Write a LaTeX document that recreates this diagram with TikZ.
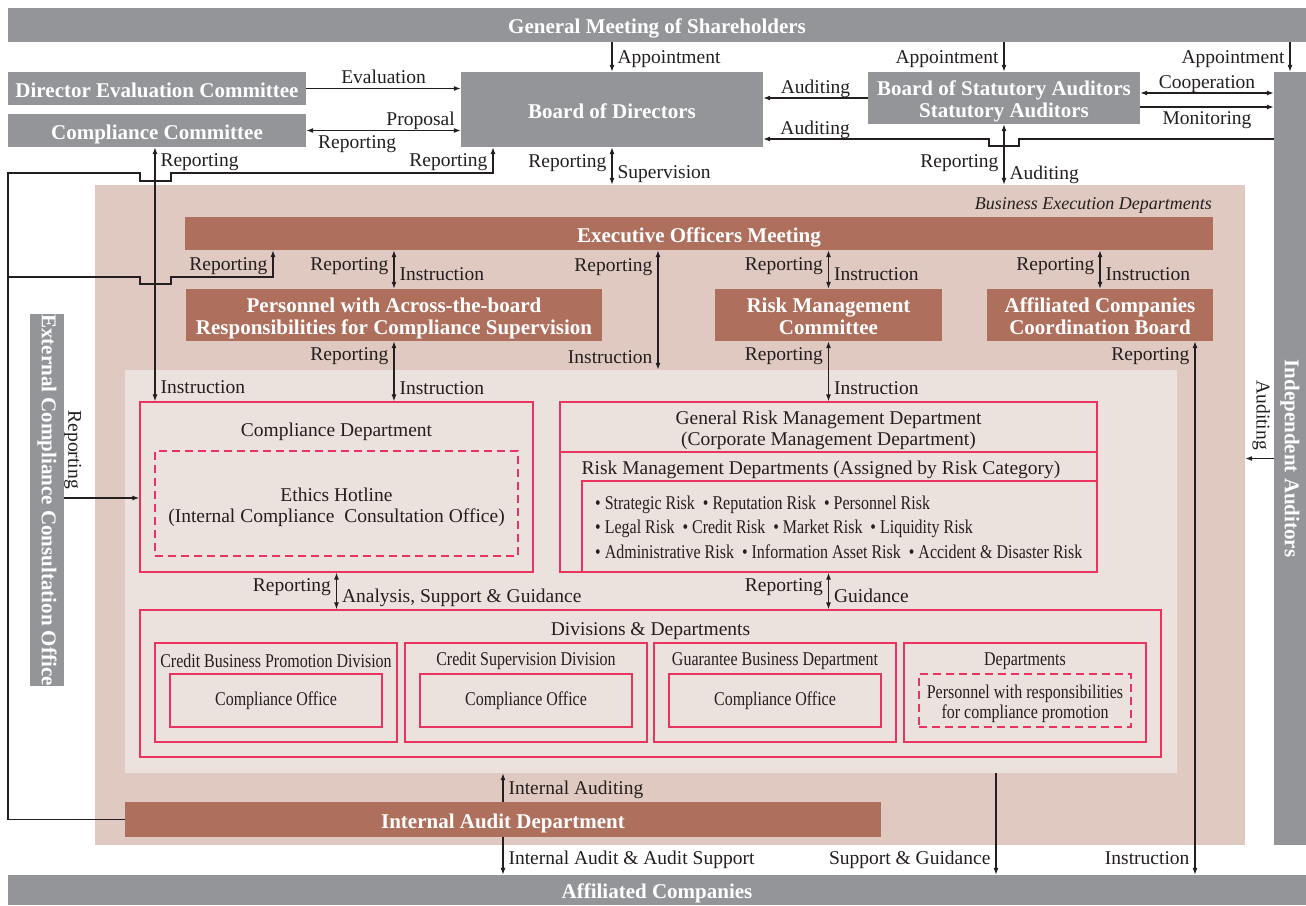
\documentclass[tikz,border=0pt]{standalone}
\usepackage{fontspec}
\setmainfont{Liberation Serif}
\newfontfamily\condfont[FakeStretch=0.82]{Liberation Serif}
\usetikzlibrary{arrows.meta}
\usetikzlibrary{calc}
\usetikzlibrary{positioning}

\definecolor{boardgray}{HTML}{939598}
\definecolor{execbrown}{HTML}{AE6F5D}
\definecolor{bedfill}{HTML}{DFC9C1}
\definecolor{innerfill}{HTML}{ECE2DD}
\definecolor{deptpink}{HTML}{E8345E}
\definecolor{linkblack}{HTML}{231F20}

\newcommand{\hdfont}{\fontsize{21}{22}\selectfont\bfseries}
\newcommand{\lbfont}{\fontsize{19.5}{21}\selectfont}
\newcommand{\cdfont}{\condfont\fontsize{19.5}{20}\selectfont}

\tikzset{
  graybox/.style={fill=boardgray, text=white, font=\hdfont, inner sep=0pt, align=center},
  brownbox/.style={fill=execbrown, text=white, font=\hdfont, inner sep=0pt, align=center},
  oneline/.style={text height=17pt, text depth=0pt},
  twoline/.style={text height=38pt, text depth=0pt},
  deptbox/.style={draw=deptpink, line width=1.3pt, inner sep=0pt, align=center},
  hotbox/.style={deptbox, dash pattern=on 8pt off 5pt},
  lbl/.style={font=\lbfont, text=linkblack, inner xsep=5pt, inner ysep=3pt, text height=14pt, text depth=1pt},
  boxtext/.style={font=\lbfont, text=linkblack, inner sep=0pt, align=center},
  condtext/.style={font=\cdfont, text=linkblack, align=center},
  arrow/.style={draw=linkblack, -{Latex[length=7pt, width=5pt]}, line width=1.1pt},
  dblarrow/.style={draw=linkblack, {Latex[length=7pt, width=5pt]}-{Latex[length=7pt, width=5pt]}, line width=1.1pt}
  }

\begin{document}
\begin{tikzpicture}[x=1pt, y=-1pt]
	\useasboundingbox (0,0) rectangle (1306,905);

	% Frames
	\node[fill=bedfill, minimum width=1150, minimum height=660] (bed) at (670,515) {};
	\node[fill=innerfill, minimum width=1052, minimum height=403] (inner) at (651,571.5) {};
	\node[font=\fontsize{18}{20}\selectfont\itshape, text=linkblack, anchor=south east, inner sep=2pt] (bedtitle) at (1214,216) {Business Execution Departments};

	% Governance
	\node[graybox, oneline, minimum width=1298, minimum height=34] (gm) at (657,25) {General Meeting of Shareholders};
	\node[graybox, oneline, minimum width=298, minimum height=33] (dec) at (157,88.5) {Director Evaluation Committee};
	\node[graybox, oneline, minimum width=298, minimum height=33] (cc) at (157,130.5) {Compliance Committee};
	\node[graybox, oneline, minimum width=302, minimum height=75] (bod) at (612,109.5) {Board of Directors};
	\node[graybox, twoline, minimum width=272, minimum height=52] (bosa) at (1004,98) {Board of Statutory Auditors\\Statutory Auditors};
	\node[graybox, minimum width=32, minimum height=773] (ia) at (1290,458.5) {\rotatebox{-90}{Independent Auditors}};
	\node[graybox, minimum width=34, minimum height=370] (ecco) at (47,500) {\rotatebox{-90}{External Compliance Consultation Office}};
	\node[graybox, oneline, minimum width=1298, minimum height=30] (ac) at (657,890) {Affiliated Companies};

	% Business execution
	\node[brownbox, oneline, minimum width=1028, minimum height=33] (eom) at (699,233.5) {Executive Officers Meeting};
	\node[brownbox, twoline, minimum width=416, minimum height=52] (pers) at (394,315) {Personnel with Across-the-board\\Responsibilities for Compliance Supervision};
	\node[brownbox, twoline, minimum width=227, minimum height=52] (rmc) at (828.5,315) {Risk Management\\Committee};
	\node[brownbox, twoline, minimum width=226, minimum height=52] (accb) at (1100,315) {Affiliated Companies\\Coordination Board};
	\node[brownbox, oneline, minimum width=756, minimum height=35] (iad) at (503,819.5) {Internal Audit Department};

	% Compliance Department
	\node[deptbox, minimum width=393, minimum height=170] (cd) at (336.5,487) {};
	\node[boxtext, text height=14pt, text depth=1pt] (cdtitle) at (336.5,430) {Compliance Department};
	\node[hotbox, boxtext, text height=38.5pt, text depth=0pt, minimum width=363, minimum height=105] (hotline) at (336.5,503.5) {Ethics Hotline\\(Internal Compliance\ \ Consultation Office)};

	% Risk management departments
	\node[deptbox, minimum width=537, minimum height=170] (grmd) at (828.5,487) {};
	\node[boxtext] (grmdtitle) at (828.5,430) {General Risk Management Department\\(Corporate Management Department)};
	\draw[deptpink, line width=1.3pt] (grmd.west |- 0,452) -- (grmd.east |- 0,452);
	\node[boxtext, text height=14pt, text depth=1pt] (rmdtitle) at (821,468) {Risk Management Departments (Assigned by Risk Category)};
	\node[deptbox, minimum width=515, minimum height=91] (risks) at (839.5,526.5) {};
	\node[condtext, align=left, anchor=west, inner sep=0pt, font=\condfont\fontsize{19.5}{24.5}\selectfont] (risklist) at (595,527)
	  {\textbullet\ Strategic Risk\ \ \textbullet\ Reputation Risk\ \ \textbullet\ Personnel Risk\\
	   \textbullet\ Legal Risk\ \ \textbullet\ Credit Risk\ \ \textbullet\ Market Risk\ \ \textbullet\ Liquidity Risk\\
	   \textbullet\ Administrative Risk\ \ \textbullet\ Information Asset Risk\ \ \textbullet\ Accident \& Disaster Risk};

	% Divisions & Departments
	\node[deptbox, minimum width=1021, minimum height=147] (dd) at (650.5,683.5) {};
	\node[boxtext, text height=14pt, text depth=1pt] (ddtitle) at (650.5,629) {Divisions \& Departments};
	\node[deptbox, minimum width=242, minimum height=99] (cbpd) at (276,692.5) {};
	\node[condtext] (cbpdtitle) at (276,661) {Credit Business Promotion Division};
	\node[deptbox, condtext, minimum width=212, minimum height=53] (cbpdoffice) at (276,700.5) {Compliance Office};
	\node[deptbox, minimum width=242, minimum height=99] (csd) at (526,692.5) {};
	\node[condtext] (csdtitle) at (526,661) {Credit Supervision Division};
	\node[deptbox, condtext, minimum width=212, minimum height=53] (csdoffice) at (526,700.5) {Compliance Office};
	\node[deptbox, minimum width=242, minimum height=99] (gbd) at (775,692.5) {};
	\node[condtext] (gbdtitle) at (775,661) {Guarantee Business Department};
	\node[deptbox, condtext, minimum width=212, minimum height=53] (gbdoffice) at (775,700.5) {Compliance Office};
	\node[deptbox, minimum width=242, minimum height=99] (depts) at (1025,692.5) {};
	\node[condtext] (deptstitle) at (1025,661) {Departments};
	\node[hotbox, condtext, text height=36pt, text depth=0pt, minimum width=212, minimum height=53] (promo) at (1025,700.5) {Personnel with responsibilities\\for compliance promotion};

	% Arrows round the board
	\draw[arrow] (gm.south -| bod.north) -- node[lbl, right]{Appointment} (bod.north);
	\draw[arrow] (gm.south -| bosa.north) -- node[lbl, left]{Appointment} (bosa.north);
	\draw[arrow] (gm.south -| ia.north) -- node[lbl, left]{Appointment} (ia.north);
	\draw[arrow] (dec.east) -- node[lbl, above]{Evaluation} (dec.east -| bod.west);
	\draw[dblarrow] (cc.east) -- node[lbl, above, pos=.74]{Proposal} node[lbl, below, pos=.33]{Reporting} (cc.east -| bod.west);
	\draw[arrow] (bosa.west) -- node[lbl, above]{Auditing} (bosa.west -| bod.east);
	\draw[arrow] (ia.west |- 0,139) -- (1019,139) -- (1019,146) -- (989,146) -- (989,139) -- node[lbl, above, pos=.77]{Auditing} (bod.east |- 0,139);
	\draw[dblarrow] (bosa.east |- 0,93) -- node[lbl, above]{Cooperation} (ia.west |- 0,93);
	\draw[arrow] (bosa.east |- 0,107) -- node[lbl, below]{Monitoring} (ia.west |- 0,107);
	\draw[dblarrow] (bosa.south) -- node[lbl, left, pos=.6]{Reporting} node[lbl, right, pos=.8]{Auditing} (bosa.south |- bed.north);
	\draw[dblarrow] (bod.south) -- node[lbl, left, pos=.37]{Reporting} node[lbl, right, pos=.66]{Supervision} (bod.south |- bed.north);

	% Left side lines
	\draw[arrow] (iad.west) -- (8,819.5) -- (8,173) -- (140,173) -- (140,181) -- (171,181) -- (171,173) -- (493,173) -- node[lbl, left]{Reporting} (bod.south -| 493,0);
	\draw[arrow] (8,277) -- (140,277) -- (140,284) -- (171,284) -- (171,277) -- (273,277) -- node[lbl, left]{Reporting} (eom.south -| 273,0);
	\draw[dblarrow] (cc.south -| 155,0) -- node[lbl, right, pos=.05]{Reporting} node[lbl, right, pos=.945]{Instruction} (cd.north -| 155,0);
	\draw[arrow] (ecco.east |- 0,498) -- (cd.west |- 0,498);
	\node[lbl, rotate=-90, anchor=south east] (eccoreport) at (ecco.east |- 0,494) {Reporting};

	% Executive Officers Meeting links
	\draw[dblarrow] (eom.south -| pers.north) -- node[lbl, left, pos=.36]{Reporting} node[lbl, right, pos=.62]{Instruction} (pers.north);
	\draw[dblarrow] (eom.south -| 658,0) -- node[lbl, left, pos=.12]{Reporting} node[lbl, left, pos=.89]{Instruction} (inner.north -| 658,0);
	\draw[dblarrow] (eom.south -| rmc.north) -- node[lbl, left, pos=.36]{Reporting} node[lbl, right, pos=.62]{Instruction} (rmc.north);
	\draw[dblarrow] (eom.south -| accb.north) -- node[lbl, left, pos=.36]{Reporting} node[lbl, right, pos=.62]{Instruction} (accb.north);
	\draw[dblarrow] (pers.south) -- node[lbl, left, pos=.21]{Reporting} node[lbl, right, pos=.77]{Instruction} (pers.south |- cd.north);
	\draw[dblarrow] (rmc.south) -- node[lbl, left, pos=.21]{Reporting} node[lbl, right, pos=.77]{Instruction} (rmc.south |- grmd.north);
	\draw[dblarrow] (accb.south -| 1195,0) -- node[lbl, left, pos=.024]{Reporting} node[lbl, left, pos=.968]{Instruction} (ac.north -| 1195,0);
	\draw[dblarrow] (cd.south) -- node[lbl, left, pos=.34]{Reporting} node[lbl, right, pos=.63]{Analysis, Support \& Guidance} (cd.south |- dd.north);
	\draw[dblarrow] (grmd.south -| rmc.south) -- node[lbl, left, pos=.34]{Reporting} node[lbl, right, pos=.63]{Guidance} (dd.north -| rmc.south);

	% Auditing and affiliates
	\draw[arrow] (ia.west) -- (ia.west -| bed.east);
	\node[lbl, rotate=-90, anchor=north east] (iaaudit) at (ia.west |- 0,455) {Auditing};
	\draw[arrow] (iad.north) -- node[lbl, right]{Internal Auditing} (iad.north |- inner.south);
	\draw[arrow] (iad.south) -- node[lbl, right, pos=.55]{Internal Audit \& Audit Support} (iad.south |- ac.north);
	\draw[arrow] (inner.south -| 996,0) -- node[lbl, left, pos=.83]{Support \& Guidance} (ac.north -| 996,0);

\end{tikzpicture}
\end{document}
